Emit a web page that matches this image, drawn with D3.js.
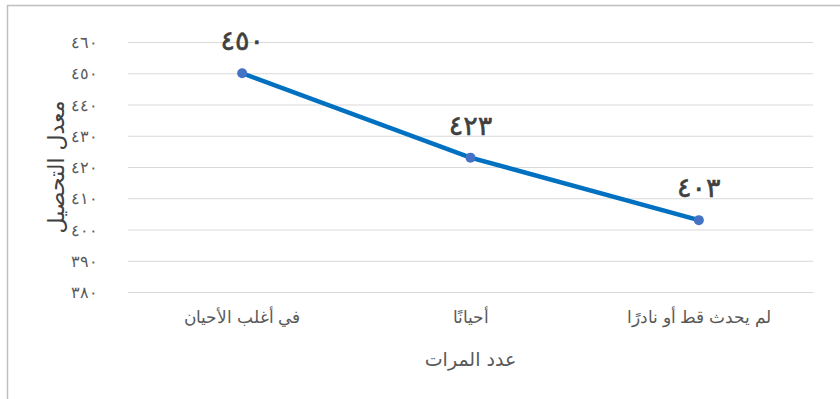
<!DOCTYPE html>
<html><head><meta charset="utf-8">
<script src="https://cdn.jsdelivr.net/npm/d3@7"></script>
<style>
html,body{margin:0;padding:0;background:#fff;}
svg{display:block;font-family:"DejaVu Sans",sans-serif;}
</style></head>
<body><svg id="c" width="840" height="399"></svg>
<script>
const categories = ["في أغلب الأحيان", "أحيانًا", "لم يحدث قط أو نادرًا"];
const values = [450, 423, 403];
const valueLabels = ["٤٥٠", "٤٢٣", "٤٠٣"];
const tickValues = [380, 390, 400, 410, 420, 430, 440, 450, 460];
const tickLabels = ["٣٨٠", "٣٩٠", "٤٠٠", "٤١٠", "٤٢٠", "٤٣٠", "٤٤٠", "٤٥٠", "٤٦٠"];
const yTitle = "معدل التحصيل";
const xTitle = "عدد المرات";

(function(){
const svg = d3.select("#c");
svg.append("rect").attr("x",7.5).attr("y",5.5).attr("width",840).attr("height",400)
  .attr("fill","none").attr("stroke","#bfbfbf").attr("stroke-width",1.5);

const pl=128, pr=813, pt=42, pb=292;
const x = d3.scaleBand().domain(categories).range([pl,pr]);
const y = d3.scaleLinear().domain([380,460]).range([pb,pt]);

const yAxis = d3.axisLeft(y).tickValues(tickValues).tickSize(-(pr-pl))
  .tickFormat((d,i)=>tickLabels[i]).tickPadding(30);
const gy = svg.append("g").attr("transform",`translate(${pl},0)`).call(yAxis);
gy.select(".domain").remove();
gy.selectAll(".tick line").attr("stroke","#d9d9d9").attr("stroke-width",1);
gy.selectAll(".tick text").attr("fill","#595959").attr("font-size",16).attr("dy","0.35em");

const xAxis = d3.axisBottom(x).tickSize(0).tickPadding(19);
const gx = svg.append("g").attr("transform",`translate(0,${pb})`).call(xAxis);
gx.select(".domain").attr("stroke","#d9d9d9");
gx.selectAll(".tick text").attr("fill","#595959").attr("font-size",17);

const pts = categories.map((c,i)=>({c, v:values[i], l:valueLabels[i]}));
const line = d3.line().x(d=>x(d.c)+x.bandwidth()/2).y(d=>y(d.v));
svg.append("path").datum(pts).attr("d",line).attr("fill","none")
  .attr("stroke","#0070c0").attr("stroke-width",4.5).attr("stroke-linecap","round");
svg.selectAll("circle.m").data(pts).enter().append("circle")
  .attr("cx",d=>x(d.c)+x.bandwidth()/2).attr("cy",d=>y(d.v)).attr("r",5)
  .attr("fill","#4472c4");
svg.selectAll("text.lbl").data(pts).enter().append("text")
  .attr("x",d=>x(d.c)+x.bandwidth()/2).attr("y",d=>y(d.v)-23)
  .attr("text-anchor","middle").attr("font-size",27).attr("fill","#404040")
  .attr("stroke","#404040").attr("stroke-width",0.6)
  .text(d=>d.l);

svg.append("text").attr("transform",`translate(64,${(pt+pb)/2}) rotate(-90)`)
  .attr("text-anchor","middle").attr("font-size",22).attr("fill","#404040").text(yTitle);
svg.append("text").attr("x",(pl+pr)/2).attr("y",366).attr("text-anchor","middle")
  .attr("font-size",19).attr("fill","#595959").text(xTitle);
})();
</script></body></html>
